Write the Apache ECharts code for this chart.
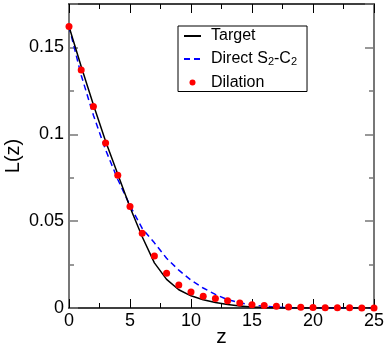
<!DOCTYPE html>
<html>
<head>
<meta charset="utf-8">
<script src="https://cdn.jsdelivr.net/npm/echarts@6/dist/echarts.min.js"></script>
<style>
    html, body { margin: 0; padding: 0; background: #fff; }
    #main { width: 385px; height: 346px; }
</style>
</head>
<body>
<div id="main"></div>
<script>
// z grid (0..25)
var zValues = [0, 1, 2, 3, 4, 5, 6, 7, 8, 9, 10, 11, 12, 13, 14, 15, 16, 17, 18, 19, 20, 21, 22, 23, 24, 25];
// Target L(z)
var targetL = [0.162, 0.139, 0.117, 0.096, 0.077, 0.058, 0.041, 0.026, 0.0165, 0.0105, 0.007, 0.0048, 0.0032,
    0.002, 0.0012, 0.0006, 0.0003, 0.0001, 0, 0, 0, 0, 0, 0, 0, 0];
// Direct S2-C2
var directL = [0.162, 0.134, 0.111, 0.091, 0.074, 0.059, 0.0458, 0.0375, 0.0286, 0.0218, 0.016, 0.0115, 0.0078,
    0.0048, 0.003, 0.0018, 0.001, 0.0005, 0.0002, 0, 0, 0, 0, 0, 0, 0];
// Dilation
var dilationL = [0.162, 0.137, 0.116, 0.095, 0.0764, 0.0584, 0.043, 0.030, 0.020, 0.0132, 0.0092, 0.0067, 0.0054,
    0.0042, 0.0029, 0.0019, 0.0015, 0.001, 0.0006, 0.0004, 0.0003, 0.0002, 0.0001, 0.0001, 0, 0];
var seriesNames = ['Target', 'Direct S2-C2', 'Dilation'];
var xTicks = [0, 25, 5];      // min, max, interval
var yTicks = [0, 0.175, 0.05];

function pairs(ys) {
    var out = [];
    for (var i = 0; i < zValues.length; i++) {
        out.push([zValues[i], ys[i]]);
    }
    return out;
}

var font = 'Liberation Sans, Arial, sans-serif';
var sideColor = '#777';

function makeX(pos, labels) {
    return {
        type: 'value', position: pos, min: xTicks[0], max: xTicks[1], interval: xTicks[2],
        name: labels ? 'z' : '', nameLocation: 'middle', nameGap: 19, nameMoveOverlap: false,
        nameTextStyle: {fontFamily: font, fontSize: 21, color: '#000'},
        axisLine: {show: true, onZero: false, lineStyle: {color: '#000', width: 1.5}},
        axisTick: {show: true, inside: true, length: 9, lineStyle: {color: '#000', width: 1}},
        minorTick: {show: true, splitNumber: 2, length: 5, lineStyle: {color: '#000', width: 1}},
        axisLabel: {show: labels, margin: 4, fontFamily: font, fontSize: 18, color: '#000'},
        splitLine: {show: false}
    };
}
function makeY(pos, labels) {
    return {
        type: 'value', position: pos, min: yTicks[0], max: yTicks[1], interval: yTicks[2],
        name: labels ? 'L(z)' : '', nameLocation: 'middle', nameGap: 46, nameMoveOverlap: false,
        nameTextStyle: {fontFamily: font, fontSize: 20, color: '#000'},
        axisLine: {show: true, onZero: false, lineStyle: {color: sideColor, width: 2}},
        axisTick: {show: true, inside: true, length: 9, lineStyle: {color: sideColor, width: 1.5}},
        minorTick: {show: true, splitNumber: 2, length: 5, lineStyle: {color: sideColor, width: 1.5}},
        axisLabel: {show: labels, margin: 5, showMaxLabel: false, fontFamily: font, fontSize: 18, color: '#000'},
        splitLine: {show: false}
    };
}

// legend: line samples only, no marker on them
var noMarker = {color: 'rgba(0,0,0,0)', borderWidth: 0, opacity: 0};

var option = {
    animation: false,
    backgroundColor: '#fff',
    grid: {left: 69, right: 11, top: 4, bottom: 38, containLabel: false, outerBoundsMode: 'none'},
    legend: {
        orient: 'vertical',
        left: 178, top: 26,
        padding: [2, 10, 1, 5],
        itemGap: 7,
        itemWidth: 17,
        itemHeight: 6,
        borderColor: '#000',
        borderWidth: 1,
        backgroundColor: '#fff',
        data: [
            {name: seriesNames[0], itemStyle: noMarker},
            {name: seriesNames[1], itemStyle: noMarker},
            {name: seriesNames[2], icon: 'circle'}
        ],
        formatter: function (name) {
            if (name === seriesNames[1]) {
                return 'Direct S{sub|2}-C{sub|2}';
            }
            return name;
        },
        textStyle: {
            fontFamily: font, fontSize: 16, color: '#000', padding: [0, 0, 0, 5],
            rich: {
                sub: {fontFamily: font, fontSize: 11, color: '#000', verticalAlign: 'bottom', padding: [6, 0, 0, 0]}
            }
        }
    },
    xAxis: [makeX('bottom', true), makeX('top', false)],
    yAxis: [makeY('left', true), makeY('right', false)],
    series: [
        {
            name: seriesNames[0], type: 'line', data: pairs(targetL),
            showSymbol: false, symbol: 'none', z: 3,
            lineStyle: {color: '#000', width: 1.5},
            itemStyle: {color: '#000'}
        },
        {
            name: seriesNames[1], type: 'line', data: pairs(directL),
            showSymbol: false, symbol: 'none', z: 2,
            lineStyle: {color: '#0000ff', width: 1.5, type: [6, 4]},
            itemStyle: {color: '#0000ff'}
        },
        {
            name: seriesNames[2], type: 'scatter', data: pairs(dilationL),
            symbol: 'circle', symbolSize: 7, z: 4,
            itemStyle: {color: '#ff0000', opacity: 1}
        }
    ]
};

var myChart = echarts.init(document.getElementById('main'));
myChart.setOption(option);
</script>
</body>
</html>
